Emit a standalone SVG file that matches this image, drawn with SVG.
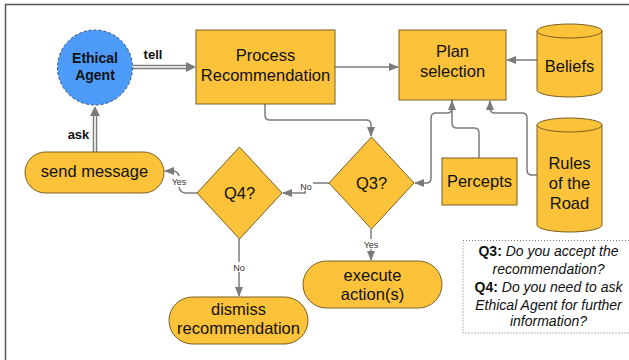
<svg xmlns="http://www.w3.org/2000/svg" width="629" height="360" viewBox="0 0 629 360">
<defs>
<style>
.box{fill:#fbc23a;stroke:#7a5f22;stroke-width:1}
.t{font-family:"Liberation Sans",Arial,sans-serif;font-size:16.5px;fill:#111;text-anchor:middle}
.b{font-family:"Liberation Sans",Arial,sans-serif;font-weight:bold;fill:#111;text-anchor:middle}
.lbl{font-family:"Liberation Sans",Arial,sans-serif;font-size:9px;fill:#333;text-anchor:middle}
.lg{font-family:"Liberation Sans",Arial,sans-serif;font-size:14px;fill:#111;text-anchor:middle}
.c{fill:none;stroke:#7b7b7b;stroke-width:1.5}
.dbl{fill:none;stroke:#7b7b7b;stroke-width:4.5}
.dbli{fill:none;stroke:#fff;stroke-width:1.6}
</style>
<marker id="ah" markerWidth="10" markerHeight="10" refX="9" refY="5" orient="auto" markerUnits="userSpaceOnUse">
<path d="M0,1 L10,5 L0,9 Z" fill="#7b7b7b"/>
</marker>
</defs>
<rect width="629" height="360" fill="#fff"/>
<path d="M5.5,360 V4.5 H629" fill="none" stroke="#555" stroke-width="1.5"/>

<g id="connectors">
<!-- tell -->
<path class="dbl" d="M133,67 H188"/>
<path class="dbli" d="M133,67 H188"/>
<path d="M186,62 L196,67 L186,72 Z" fill="#7b7b7b"/>
<text class="b" x="153" y="59" font-size="13">tell</text>
<!-- ask -->
<path class="dbl" d="M95,152 V114"/>
<path class="dbli" d="M95,152 V114"/>
<path d="M90,116 L95,106 L100,116 Z" fill="#7b7b7b"/>
<text class="b" x="78.5" y="139" font-size="13">ask</text>
<!-- process -> plan -->
<path class="c" d="M335,67 H398" marker-end="url(#ah)"/>
<!-- process -> Q3 -->
<path class="c" d="M265,104 V115 Q265,120 270,120 H366 Q371,120 371,125 V136" marker-end="url(#ah)"/>
<!-- beliefs -> plan -->
<path class="c" d="M537,60 H507" marker-end="url(#ah)"/>
<!-- percepts -> plan -->
<path class="c" d="M479,158 V133 Q479,128 474,128 H457 Q452,128 452,123 V101" marker-end="url(#ah)"/>
<!-- rules -> plan -->
<path class="c" d="M537,175 H532 Q527,175 527,170 V118 Q527,113 522,113 H495 Q490,113 490,108 V101" marker-end="url(#ah)"/>
<!-- plan -> Q3 -->
<path class="c" d="M452,100 V108 Q452,113 447,113 H436 Q431,113 431,118 V178 Q431,183 426,183 H415" marker-end="url(#ah)"/>
<!-- Q3 -> Q4 No -->
<path class="c" d="M329,183 H305 V193 H283" marker-end="url(#ah)"/>
<rect x="299" y="181" width="14" height="10" fill="#fff"/>
<text class="lbl" x="306" y="190">No</text>
<!-- Q3 -> execute Yes -->
<path class="c" d="M371,229 V260" marker-end="url(#ah)"/>
<rect x="362" y="239" width="19" height="10" fill="#fff"/>
<text class="lbl" x="371" y="248">Yes</text>
<!-- Q4 -> send message Yes -->
<path class="c" d="M197,193 H186 Q180,193 179,187 M179,176 Q178,171 172,171 H165" marker-end="url(#ah)"/>
<text class="lbl" x="179" y="185">Yes</text>
<!-- Q4 -> dismiss No -->
<path class="c" d="M239,239 V296" marker-end="url(#ah)"/>
<rect x="232" y="262" width="14" height="10" fill="#fff"/>
<text class="lbl" x="239" y="271">No</text>
</g>

<g id="ethical-agent">
<circle cx="95" cy="67.5" r="37.5" fill="#4d9bf8" stroke="#2b4f80" stroke-width="1" stroke-dasharray="3,2"/>
<text class="b" x="95" y="63" font-size="14">Ethical</text>
<text class="b" x="95" y="80" font-size="14">Agent</text>
</g>

<g id="process-recommendation">
<rect class="box" x="196" y="30" width="139" height="74"/>
<text class="t" x="265.5" y="61">Process</text>
<text class="t" x="265.5" y="81">Recommendation</text>
</g>

<g id="plan-selection">
<rect class="box" x="399" y="30" width="107" height="70"/>
<text class="t" x="452.5" y="57">Plan</text>
<text class="t" x="452.5" y="77">selection</text>
</g>

<g id="beliefs">
<path class="box" d="M537,31 A32.5,7 0 0 1 602,31 V90 A32.5,7 0 0 1 537,90 Z"/>
<path d="M537,31 A32.5,7 0 0 0 602,31" fill="none" stroke="#7a5f22" stroke-width="1"/>
<text class="t" x="569.5" y="72">Beliefs</text>
</g>

<g id="rules-of-the-road">
<path class="box" d="M537,125 A32.5,7 0 0 1 602,125 V225 A32.5,7 0 0 1 537,225 Z"/>
<path d="M537,125 A32.5,7 0 0 0 602,125" fill="none" stroke="#7a5f22" stroke-width="1"/>
<text class="t" x="569.5" y="169">Rules</text>
<text class="t" x="569.5" y="189">of the</text>
<text class="t" x="569.5" y="209">Road</text>
</g>

<g id="percepts">
<rect class="box" x="442" y="158" width="75" height="47"/>
<text class="t" x="479.5" y="187">Percepts</text>
</g>

<g id="q3">
<path class="box" d="M371.5,137 L414,183 L371.5,229 L329,183 Z"/>
<text class="t" x="371.5" y="189">Q3?</text>
</g>

<g id="q4">
<path class="box" d="M239.5,147 L282,193 L239.5,239 L197,193 Z"/>
<text class="t" x="239.5" y="199">Q4?</text>
</g>

<g id="send-message">
<rect class="box" x="25" y="152" width="139" height="41" rx="20.5"/>
<text class="t" x="94.5" y="177">send message</text>
</g>

<g id="execute-actions">
<rect class="box" x="303" y="261" width="139" height="47" rx="23.5"/>
<text class="t" x="372.5" y="281">execute</text>
<text class="t" x="372.5" y="300">action(s)</text>
</g>

<g id="dismiss-recommendation">
<rect class="box" x="169" y="297" width="139" height="47" rx="23.5"/>
<text class="t" x="238.5" y="315">dismiss</text>
<text class="t" x="238.5" y="334">recommendation</text>
</g>

<g id="legend">
<rect x="463" y="240.5" width="170" height="92.5" fill="none" stroke="#777" stroke-width="1" stroke-dasharray="1,2"/>
<text class="lg" x="548.5" y="256"><tspan font-weight="bold">Q3:</tspan> <tspan font-style="italic">Do you accept the</tspan></text>
<text class="lg" x="548.5" y="274" font-style="italic">recommendation?</text>
<text class="lg" x="548.5" y="292"><tspan font-weight="bold">Q4:</tspan> <tspan font-style="italic">Do you need to ask</tspan></text>
<text class="lg" x="548.5" y="310" font-style="italic">Ethical Agent for further</text>
<text class="lg" x="548.5" y="326" font-style="italic">information?</text>
</g>
</svg>
